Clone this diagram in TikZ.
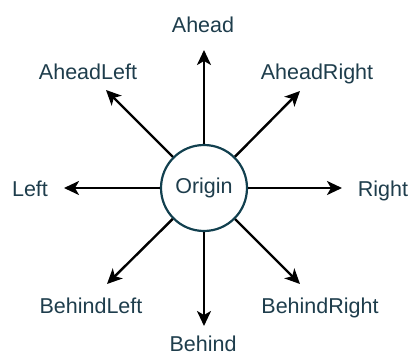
\documentclass[tikz,border=0pt]{standalone}
\usepackage{fontspec}
\setmainfont{Liberation Sans}
\usetikzlibrary{arrows.meta}
\definecolor{txt}{HTML}{1E3D4C}
\definecolor{ring}{HTML}{12404F}
\begin{document}
\begin{tikzpicture}[x=1pt,y=-1pt,
  lbl/.style={anchor=base,text=txt,inner sep=0pt,font=\fontsize{21.5}{26}\selectfont},
  arr/.style={line width=2.4pt,-{Stealth[length=15pt,width=14pt,inset=4pt]}},
  orig/.style={circle,draw=ring,line width=2.2pt,fill=white,minimum size=86pt,inner sep=0pt,text=txt,font=\fontsize{21.5}{26}\selectfont}]
\useasboundingbox (0,0) rectangle (410,356);
\node[orig] (o) at (204,188) {Origin};
\coordinate (tA) at (204,50);
\coordinate (tB) at (204,326);
\coordinate (tL) at (64,188);
\coordinate (tR) at (342,188);
\coordinate (tAL) at (106,90);
\coordinate (tAR) at (300,91);
\coordinate (tBL) at (107,284);
\coordinate (tBR) at (300,284);
\draw[arr] (o) -- (tA);
\draw[arr] (o) -- (tB);
\draw[arr] (o) -- (tL);
\draw[arr] (o) -- (tR);
\draw[arr] (o) -- (tAL);
\draw[arr] (o) -- (tAR);
\draw[arr] (o) -- (tBL);
\draw[arr] (o) -- (tBR);
\node[lbl] (a) at (203,32) {Ahead};
\node[lbl] (b) at (203,351) {Behind};
\node[lbl] (l) at (30,196) {Left};
\node[lbl] (r) at (383,196) {Right};
\node[lbl] (al) at (88,79) {AheadLeft};
\node[lbl] (ar) at (317,79) {AheadRight};
\node[lbl] (bl) at (91,313) {BehindLeft};
\node[lbl] (br) at (320,313) {BehindRight};
\end{tikzpicture}
\end{document}
